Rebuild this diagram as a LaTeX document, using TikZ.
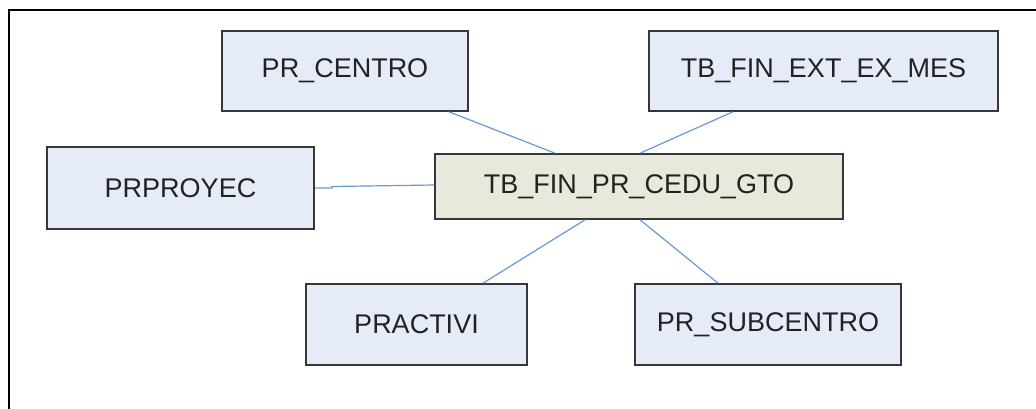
\documentclass[tikz,border=0pt]{standalone}
\usepackage{fontspec}
\setmainfont{Liberation Sans}
\definecolor{tablefill}{RGB}{230,236,247}
\definecolor{mainfill}{RGB}{232,233,220}
\definecolor{boxedge}{RGB}{55,55,55}
\definecolor{linkblue}{RGB}{104,152,214}
\definecolor{labelgray}{RGB}{34,34,34}
\tikzset{
  table/.style={draw=boxedge, line width=1.6pt, fill=tablefill, inner sep=0pt,
    text=labelgray, font=\fontsize{27}{32}\selectfont},
  maintable/.style={table, fill=mainfill},
  link/.style={draw=linkblue, line width=1.2pt},
  frame/.style={draw=black, line width=2pt}
}
\begin{document}
\begin{tikzpicture}[x=1pt, y=-1pt]
  \useasboundingbox (0,0) rectangle (1036,409);
  % page frame (top and left edges)
  \coordinate (ftr) at (1036,10);
  \coordinate (ftl) at (9,10);
  \coordinate (fbl) at (9,409);
  \draw[frame] (ftr) -- (ftl) -- (fbl);

  % tables
  \node[table, minimum width=246pt, minimum height=80pt] (centro) at (345,71) {PR\_CENTRO};
  \node[table, minimum width=349pt, minimum height=80pt] (extmes) at (823.5,71) {TB\_FIN\_EXT\_EX\_MES};
  \node[table, minimum width=267pt, minimum height=82pt] (proyec) at (180.5,188) {PRPROYEC};
  \node[maintable, minimum width=408pt, minimum height=65pt] (cedu) at (639,186.5) {TB\_FIN\_PR\_CEDU\_GTO};
  \node[table, minimum width=221pt, minimum height=81pt] (activi) at (416.5,324.5) {PRACTIVI};
  \node[table, minimum width=266pt, minimum height=81pt] (subcentro) at (768,324.5) {PR\_SUBCENTRO};

  % relations
  \coordinate (jog) at (332,188);
  \draw[link] ([xshift=104pt]centro.south) -- ([xshift=-84pt]cedu.north);
  \draw[link] ([xshift=-90.5pt]extmes.south) -- ([xshift=1pt]cedu.north);
  \draw[link] (proyec.east) -- (jog) -- ([yshift=1.5pt]jog) -- ([yshift=1.5pt]cedu.west);
  \draw[link] ([xshift=-54pt]cedu.south) -- ([xshift=66.5pt]activi.north);
  \draw[link] ([xshift=1pt]cedu.south) -- ([xshift=-50pt]subcentro.north);
\end{tikzpicture}
\end{document}
